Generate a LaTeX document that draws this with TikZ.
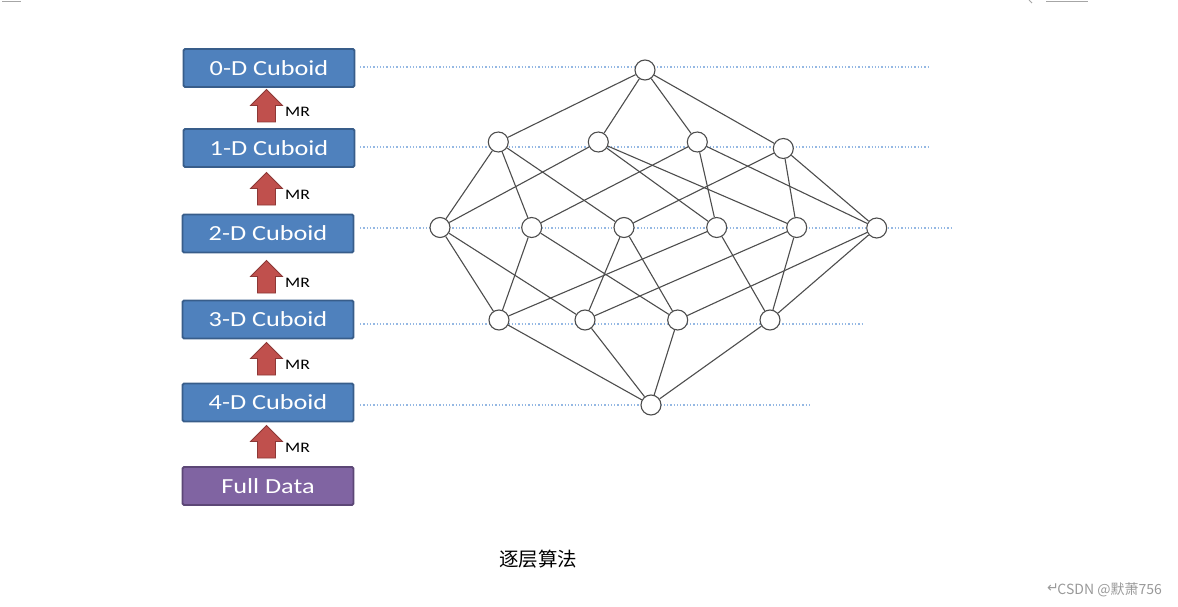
\documentclass[tikz,border=0pt]{standalone}
\usepackage{fontspec}
\setmainfont{Carlito}
\newfontfamily\cjk{Noto Sans CJK SC}
\newfontfamily\dejavu{DejaVu Sans}
\usetikzlibrary{positioning}
\definecolor{boxblue}{HTML}{4F81BD}
\definecolor{boxblueline}{HTML}{385D8A}
\definecolor{boxpurple}{HTML}{8064A2}
\definecolor{boxpurpleline}{HTML}{5C4776}
\definecolor{arrred}{HTML}{C0504D}
\definecolor{arrredline}{HTML}{8C3836}
\definecolor{dotblue}{HTML}{95B8E3}
\definecolor{edgegray}{HTML}{4D4D4D}
\tikzset{
  cubebox/.style={draw=boxblueline, fill=boxblue, line width=1.8pt, rounded corners=1.5pt,
    minimum width=171pt, minimum height=38pt, inner sep=0pt, text=white,
    font=\fontsize{21.5}{21.5}\selectfont},
  databox/.style={cubebox, draw=boxpurpleline, fill=boxpurple},
  lat/.style={circle, draw=edgegray, fill=white, line width=1.1pt, minimum size=20pt, inner sep=0pt},
  ed/.style={draw=edgegray, line width=1.1pt},
  level/.style={draw=dotblue, line width=1.3pt, dash pattern=on 1.3pt off 2pt},
  mrlabel/.style={font=\fontsize{14.5}{14.5}\selectfont, inner sep=0pt},
  mrup/.pic={
    \path[fill=arrred, draw=arrredline, line width=0.8pt]
      (-9,0) -- (9,0) -- (9,-16.5) -- (16,-16.5) -- (0,-32.5) -- (-16,-16.5) -- (-9,-16.5) -- cycle;
  }
}
\newcommand{\wide}[1]{\scalebox{1.22}[1]{#1}}
\begin{document}
\begin{tikzpicture}[x=1pt, y=-1pt]
\useasboundingbox (0,0) rectangle (1178,607);
% screenshot artefacts
\draw[gray!70, line width=0.8pt] (2,1) -- (21,1);
\draw[gray!70, line width=0.8pt] (1046,1) -- (1088,1);
\draw[gray!70, line width=0.8pt] (1029,0) -- (1032,3);

% level lines
\coordinate (l0s) at (360,67);  \coordinate (l0e) at (930,67);
\coordinate (l1s) at (360,147); \coordinate (l1e) at (930,147);
\coordinate (l2s) at (360,228); \coordinate (l2e) at (952,228);
\coordinate (l3s) at (360,324); \coordinate (l3e) at (862,324);
\coordinate (l4s) at (360,405); \coordinate (l4e) at (810,405);
\draw[level] (l0s) -- (l0e);
\draw[level] (l1s) -- (l1e);
\draw[level] (l2s) -- (l2e);
\draw[level] (l3s) -- (l3e);
\draw[level] (l4s) -- (l4e);

% boxes
\node[cubebox] (b0) at (269,68) {\wide{0-D Cuboid}};
\node[cubebox] (b1) at (269,148) {\wide{1-D Cuboid}};
\node[cubebox] (b2) at (268,233.5) {\wide{2-D Cuboid}};
\node[cubebox] (b3) at (268,319.5) {\wide{3-D Cuboid}};
\node[cubebox] (b4) at (268,402.5) {\wide{4-D Cuboid}};
\node[databox] (bf) at (268,486) {\wide{Full Data}};

% MR arrows
\pic at (266.5,122) {mrup};
\node[mrlabel] (mr1) at (297.5,112) {\wide{MR}};
\pic at (266.5,205) {mrup};
\node[mrlabel] (mr2) at (297.5,195) {\wide{MR}};
\pic at (266.5,293) {mrup};
\node[mrlabel] (mr3) at (297.5,283) {\wide{MR}};
\pic at (266.5,375) {mrup};
\node[mrlabel] (mr4) at (297.5,365) {\wide{MR}};
\pic at (266.5,458) {mrup};
\node[mrlabel] (mr5) at (297.5,448) {\wide{MR}};

% lattice nodes
\node[lat] (t) at (645,70) {};
\node[lat] (a) at (498.3,142) {};
\node[lat] (b) at (598.3,142) {};
\node[lat] (c) at (697.3,142) {};
\node[lat] (d) at (783.3,148.5) {};
\node[lat] (n1) at (440,227.5) {};
\node[lat] (n2) at (531.7,227.5) {};
\node[lat] (n3) at (624,227.5) {};
\node[lat] (n4) at (716.7,227.5) {};
\node[lat] (n5) at (796.7,227.5) {};
\node[lat] (n6) at (876.7,228) {};
\node[lat] (m1) at (499,320) {};
\node[lat] (m2) at (585,320) {};
\node[lat] (m3) at (677.7,320) {};
\node[lat] (m4) at (770,320) {};
\node[lat] (bt) at (651,405) {};

% lattice edges
\foreach \u in {a,b,c,d} \draw[ed] (t) -- (\u);
\draw[ed] (a) -- (n1); \draw[ed] (a) -- (n2); \draw[ed] (a) -- (n3);
\draw[ed] (b) -- (n1); \draw[ed] (b) -- (n4); \draw[ed] (b) -- (n5);
\draw[ed] (c) -- (n2); \draw[ed] (c) -- (n4); \draw[ed] (c) -- (n6);
\draw[ed] (d) -- (n3); \draw[ed] (d) -- (n5); \draw[ed] (d) -- (n6);
\draw[ed] (n1) -- (m1); \draw[ed] (n1) -- (m2);
\draw[ed] (n2) -- (m1); \draw[ed] (n2) -- (m3);
\draw[ed] (n3) -- (m2); \draw[ed] (n3) -- (m3);
\draw[ed] (n4) -- (m1); \draw[ed] (n4) -- (m4);
\draw[ed] (n5) -- (m2); \draw[ed] (n5) -- (m4);
\draw[ed] (n6) -- (m3); \draw[ed] (n6) -- (m4);
\foreach \u in {m1,m2,m3,m4} \draw[ed] (\u) -- (bt);

% caption
\node[font=\cjk\fontsize{19.5}{19.5}\selectfont, inner sep=0pt] (cap) at (538,559) {逐层算法};

% watermark
\node[font=\cjk\fontsize{14}{14}\selectfont, text=gray!80, anchor=east, inner sep=0pt] (wm) at (1162,590) {CSDN @默萧756};
\node[font=\dejavu\fontsize{14}{14}\selectfont, text=gray!80, inner sep=0pt] (pm) at (1053,588) {↵};
\end{tikzpicture}
\end{document}
